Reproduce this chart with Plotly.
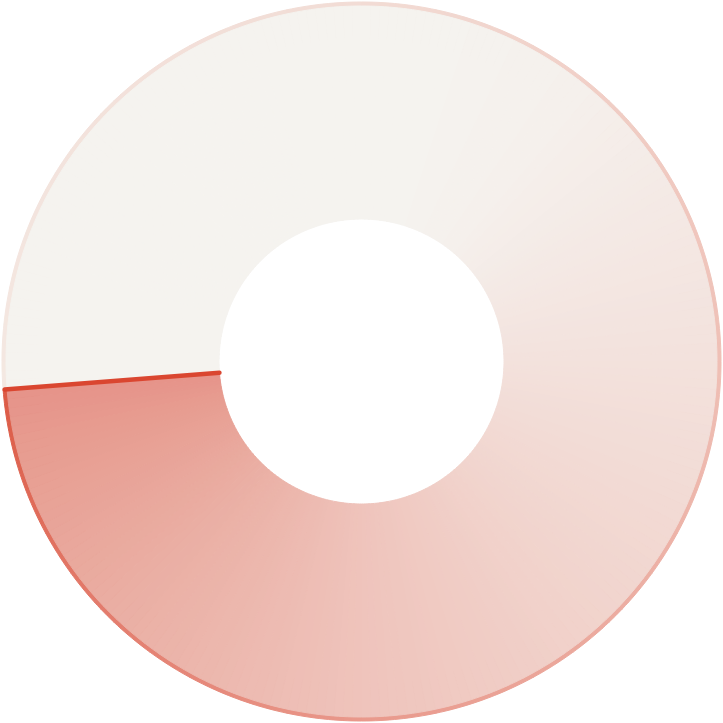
import plotly.graph_objects as go

# ---- data ----
categories = ["Total"]
values = [100]
start_angle = 265.5  # degrees clockwise from 12 o'clock

# ---- style: conic gradient stops (fraction of sweep, colour) ----
fill_stops = [(0.00, "#f5f3ef"), (0.30, "#f5f3ef"), (0.37, "#f5f0ec"),
              (0.51, "#f3e2dd"), (0.64, "#f1d4cd"), (0.76, "#efc4bc"),
              (0.89, "#eaaea3"), (0.97, "#e79d91"), (1.00, "#e6938a")]
stroke_stops = [(0.00, "#f4e8e2"), (0.26, "#f2dcd5"), (0.51, "#efc0b6"),
                (0.76, "#e9998c"), (0.90, "#e37a6a"), (1.00, "#dc5a45")]
edge_color = "#da4630"


def hex2rgb(h):
    h = h.lstrip("#")
    return [int(h[i:i + 2], 16) for i in (0, 2, 4)]


def interp(stops, f):
    for (f0, c0), (f1, c1) in zip(stops[:-1], stops[1:]):
        if f <= f1:
            t = 0 if f1 == f0 else (f - f0) / (f1 - f0)
            a, b = hex2rgb(c0), hex2rgb(c1)
            r = [round(a[i] + (b[i] - a[i]) * t) for i in range(3)]
            return "rgb(%d,%d,%d)" % tuple(r)
    return stops[-1][1]


# split the single value into thin render pieces so a gradient can be drawn
N = 240
total = values[0]
piece_vals = [total / N] * N
mids = [(i + 0.5) / N for i in range(N)]
fill_cols = [interp(fill_stops, m) for m in mids]
stroke_cols = [interp(stroke_stops, m) for m in mids]

W = 723
R_out = 359.5
stroke_w = 4.0
R_hole = 142.5


def dom(r):
    half = r / W
    return dict(x=[0.5 - half, 0.5 + half], y=[0.5 - half, 0.5 + half])


common = dict(sort=False, direction="clockwise", rotation=start_angle,
              textinfo="none", hoverinfo="skip", showlegend=False)

fig = go.Figure()
# outer stroke ring
fig.add_trace(go.Pie(values=piece_vals, labels=[f"s{i}" for i in range(N)],
                     domain=dom(R_out), hole=0.9,
                     marker=dict(colors=stroke_cols,
                                 line=dict(color=stroke_cols, width=1)),
                     **common))
# gradient fill ring
fig.add_trace(go.Pie(values=piece_vals, labels=[f"f{i}" for i in range(N)],
                     domain=dom(R_out - stroke_w), hole=R_hole / (R_out - stroke_w),
                     marker=dict(colors=fill_cols,
                                 line=dict(color=fill_cols, width=1)),
                     **common))
# start edge line
fig.add_trace(go.Pie(values=[total * 1e-5, total], labels=["edge", "rest"],
                     domain=dom(R_out - 1.5), hole=R_hole / (R_out - 1.5),
                     marker=dict(colors=[edge_color, "rgba(0,0,0,0)"],
                                 line=dict(color=[edge_color, "rgba(0,0,0,0)"],
                                           width=[4.5, 0])),
                     **common))

fig.update_layout(width=W, height=W, margin=dict(l=0, r=0, t=0, b=0),
                  paper_bgcolor="white", plot_bgcolor="white")
fig.write_html("out.html",
               config={"displayModeBar": False},
               post_script="document.body.style.margin='0';"
                           "document.body.style.overflow='hidden';")
